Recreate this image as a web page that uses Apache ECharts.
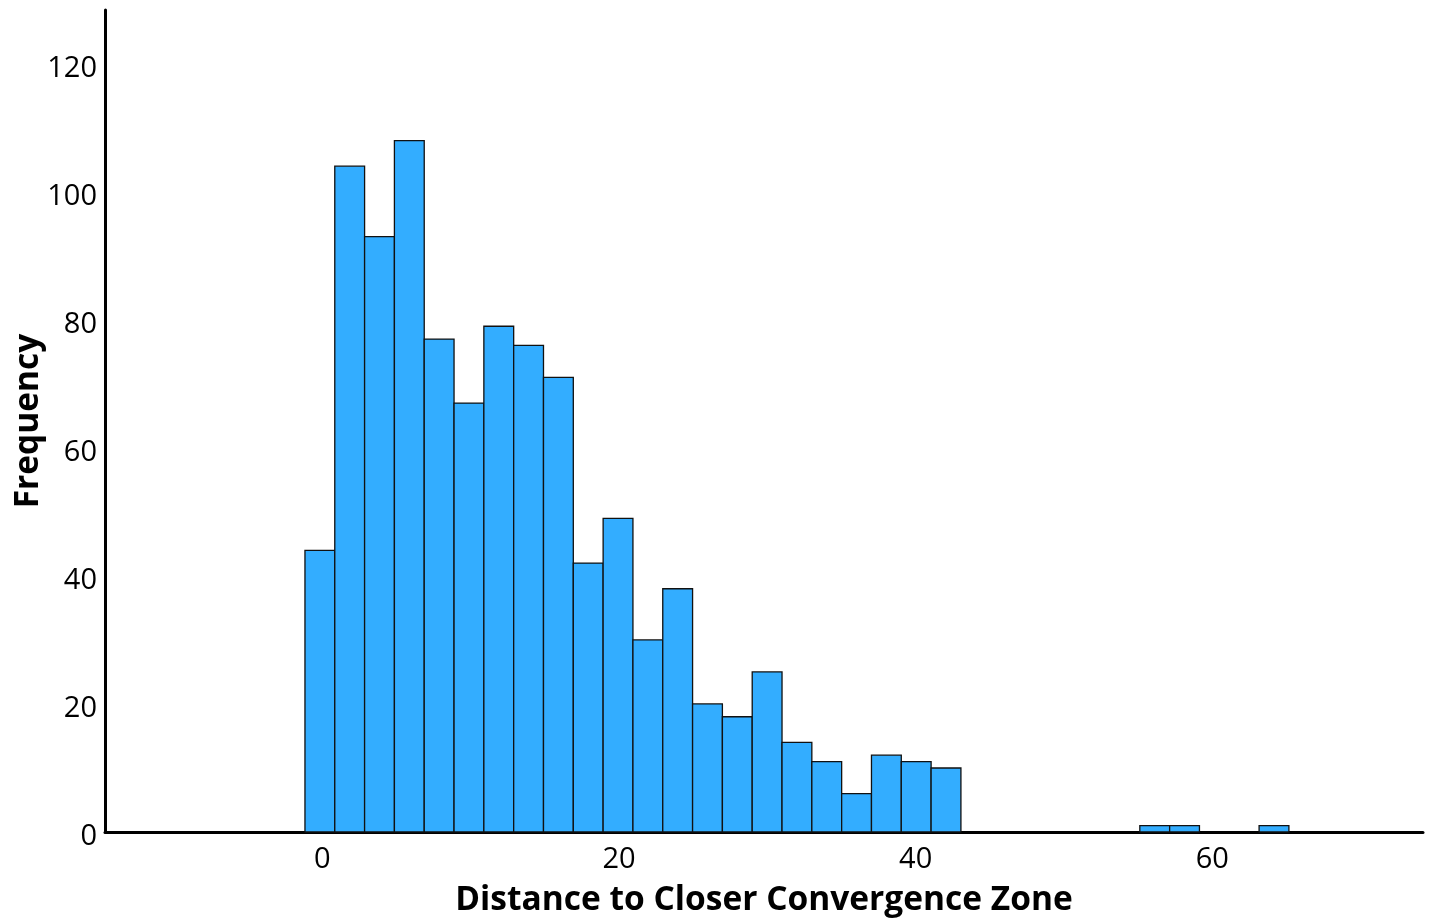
<!DOCTYPE html>
<html>
<head>
<meta charset="utf-8">
<script src="https://cdn.jsdelivr.net/npm/echarts@6/dist/echarts.min.js"></script>
<style>html,body{margin:0;padding:0;background:#fff}#c{width:1432px;height:919px}</style>
</head>
<body>
<div id="c"></div>
<script>
// Histogram data: bins of equal width starting at binStart
const binStart = -1.17;
const binWidth = 2.01;
const counts = [44, 104, 93, 108, 77, 67, 79, 76, 71, 42, 49, 30, 38, 20, 18, 25, 14, 11, 6, 12, 11, 10,
                0, 0, 0, 0, 0, 0, 1, 1, 0, 0, 1];
const xTicks = [0, 20, 40, 60];
const yTicks = [0, 20, 40, 60, 80, 100, 120];
const xTitle = 'Distance to Closer Convergence Zone';
const yTitle = 'Frequency';

const data = counts.map((c, i) => [binStart + i * binWidth, binStart + (i + 1) * binWidth, c]).filter(d => d[2] > 0);

const chart = echarts.init(document.getElementById('c'));
const font = 'Open Sans';
chart.setOption({
  animation: false,
  grid: {left: 105, right: 9, top: 10, bottom: 87, containLabel: false, outerBoundsMode: 'none'},
  xAxis: {
    type: 'value', min: -14.65, max: 74.2,
    name: xTitle, nameLocation: 'middle', nameGap: 51, nameMoveOverlap: false,
    nameTextStyle: {fontFamily: font, fontWeight: 'bold', fontSize: 33.5, color: '#000'},
    axisLine: {show: true, onZero: false, lineStyle: {color: '#000', width: 3}},
    axisTick: {show: false},
    splitLine: {show: false},
    axisLabel: {customValues: xTicks, fontFamily: font, fontSize: 29, color: '#000', margin: 13}
  },
  yAxis: {
    type: 'value', min: 0, max: 128.4,
    name: yTitle, nameLocation: 'middle', nameGap: 60, nameMoveOverlap: false,
    nameTextStyle: {fontFamily: font, fontWeight: 'bold', fontSize: 33.5, color: '#000'},
    axisLine: {show: true, onZero: false, lineStyle: {color: '#000', width: 3}},
    axisTick: {show: false},
    splitLine: {show: false},
    axisLabel: {customValues: yTicks, color: '#000', margin: 8,
                formatter: '{v|{value}}',
                rich: {v: {fontFamily: font, fontSize: 29, color: '#000', padding: [10, 0, 0, 0]}}}
  },
  series: [{
    type: 'custom',
    data: data,
    encode: {x: [0, 1], y: 2},
    renderItem: function (params, api) {
      const p0 = api.coord([api.value(0), 0]);
      const p1 = api.coord([api.value(1), api.value(2)]);
      return {
        type: 'rect',
        shape: {x: p0[0], y: p1[1], width: p1[0] - p0[0], height: p0[1] - p1[1]},
        style: {fill: '#33adff', stroke: '#111', lineWidth: 1.3}
      };
    }
  }]
});
</script>
</body>
</html>
